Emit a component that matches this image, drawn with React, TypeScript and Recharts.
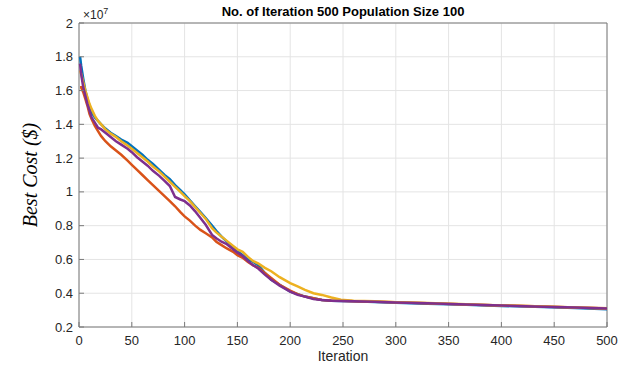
import { LineChart, Line, XAxis, YAxis, CartesianGrid, ReferenceArea } from 'recharts';

// iteration samples (values in units of 1e7 $)
const iterations = [1, 2, 4, 6, 8, 10, 12, 15, 18, 21, 25, 30, 35, 40, 46, 50, 55, 60, 65, 70, 76, 81, 86, 91, 96, 100, 105, 110, 115, 120, 126, 130, 135, 140, 146, 150, 155, 160, 165, 170, 176, 182, 190, 200, 207, 214, 222, 230, 239, 248, 260, 280, 300, 330, 360, 400, 440, 470, 500];

const run1 = [1.80, 1.75, 1.67, 1.60, 1.55, 1.51, 1.47, 1.44, 1.42, 1.40, 1.375, 1.35, 1.33, 1.31, 1.29, 1.27, 1.245, 1.22, 1.19, 1.165, 1.13, 1.10, 1.075, 1.04, 1.01, 0.985, 0.95, 0.915, 0.88, 0.845, 0.80, 0.77, 0.735, 0.705, 0.67, 0.65, 0.625, 0.60, 0.585, 0.565, 0.52, 0.48, 0.45, 0.41, 0.395, 0.38, 0.37, 0.36, 0.355, 0.354, 0.352, 0.348, 0.344, 0.338, 0.333, 0.325, 0.318, 0.312, 0.305];
const run2 = [1.62, 1.62, 1.59, 1.55, 1.51, 1.46, 1.43, 1.39, 1.36, 1.33, 1.30, 1.27, 1.245, 1.22, 1.185, 1.16, 1.13, 1.10, 1.07, 1.04, 1.005, 0.975, 0.945, 0.915, 0.88, 0.855, 0.83, 0.80, 0.775, 0.755, 0.73, 0.705, 0.685, 0.665, 0.645, 0.625, 0.61, 0.585, 0.565, 0.55, 0.52, 0.49, 0.45, 0.415, 0.395, 0.38, 0.37, 0.36, 0.356, 0.355, 0.353, 0.35, 0.346, 0.341, 0.335, 0.328, 0.321, 0.316, 0.311];
const run3 = [1.72, 1.70, 1.65, 1.60, 1.56, 1.52, 1.49, 1.45, 1.42, 1.40, 1.37, 1.345, 1.325, 1.30, 1.275, 1.255, 1.23, 1.205, 1.18, 1.15, 1.12, 1.09, 1.06, 1.03, 1.00, 0.975, 0.945, 0.91, 0.875, 0.84, 0.785, 0.76, 0.735, 0.71, 0.68, 0.66, 0.645, 0.615, 0.59, 0.575, 0.55, 0.53, 0.495, 0.46, 0.44, 0.42, 0.40, 0.39, 0.375, 0.362, 0.356, 0.352, 0.347, 0.342, 0.336, 0.328, 0.321, 0.316, 0.31];
const run4 = [1.76, 1.70, 1.62, 1.57, 1.52, 1.48, 1.44, 1.41, 1.38, 1.37, 1.35, 1.325, 1.30, 1.28, 1.255, 1.235, 1.205, 1.18, 1.155, 1.125, 1.095, 1.065, 1.035, 0.97, 0.955, 0.945, 0.92, 0.885, 0.845, 0.805, 0.745, 0.725, 0.705, 0.69, 0.66, 0.64, 0.62, 0.59, 0.565, 0.545, 0.51, 0.48, 0.445, 0.41, 0.39, 0.38, 0.365, 0.36, 0.355, 0.354, 0.352, 0.349, 0.345, 0.34, 0.334, 0.327, 0.32, 0.315, 0.31];

const xTicks = [0, 50, 100, 150, 200, 250, 300, 350, 400, 450, 500];
const yTicks = [0.2, 0.4, 0.6, 0.8, 1, 1.2, 1.4, 1.6, 1.8, 2];

const data = iterations.map((it, i) => ({ it, a: run1[i], b: run2[i], c: run3[i], d: run4[i] }));

const AXIS = '#7a7a7a';
const LABEL = '#262626';
const FONT = '"Liberation Sans", Arial, sans-serif';

// eslint-disable-next-line @typescript-eslint/no-explicit-any
const BottomTick = ({ x, y, payload }: any) => (
  <g>
    <line x1={x} x2={x} y1={y} y2={y - 5} stroke={AXIS} />
    <text x={x} y={y + 18} textAnchor="middle" fontSize={13} fill={LABEL} fontFamily={FONT}>{payload.value}</text>
  </g>
);
// eslint-disable-next-line @typescript-eslint/no-explicit-any
const LeftTick = ({ x, y, payload }: any) => (
  <g>
    <line x1={x} x2={x + 5} y1={y} y2={y} stroke={AXIS} />
    <text x={x - 6} y={y + 4.5} textAnchor="end" fontSize={13} fill={LABEL} fontFamily={FONT}>
      {String(Number(Number(payload.value).toFixed(1)))}
    </text>
  </g>
);
// eslint-disable-next-line @typescript-eslint/no-explicit-any
const TopTick = ({ x, y }: any) => <line x1={x} x2={x} y1={y} y2={y + 5} stroke={AXIS} />;
// eslint-disable-next-line @typescript-eslint/no-explicit-any
const RightTick = ({ x, y }: any) => <line x1={x} x2={x - 5} y1={y} y2={y} stroke={AXIS} />;

export default function App() {
  return (
    <div style={{ position: 'absolute', left: 0, top: 0, width: 630, height: 368, background: '#fff' }}>
      <LineChart width={630} height={368} data={data} margin={{ top: 23, right: 23, left: 0, bottom: 0 }}>
        <CartesianGrid stroke="#e4e4e4" strokeWidth={1} />
        <XAxis
          dataKey="it" type="number" domain={[0, 500]} ticks={xTicks}
          height={41} axisLine={false} tickLine={false} tickSize={0} tickMargin={0}
          tick={<BottomTick />} interval={0}
        />
        <XAxis
          xAxisId="top" orientation="top" dataKey="it" type="number" domain={[0, 500]} ticks={xTicks}
          height={0} axisLine={false} tickLine={false} tickSize={0} tickMargin={0}
          tick={<TopTick />} interval={0}
        />
        <YAxis
          type="number" domain={[0.2, 2]} ticks={yTicks} width={79}
          axisLine={false} tickLine={false} tickSize={0} tickMargin={0}
          tick={<LeftTick />} interval={0}
        />
        <YAxis
          yAxisId="right" orientation="right" type="number" domain={[0.2, 2]} ticks={yTicks} width={0}
          axisLine={false} tickLine={false} tickSize={0} tickMargin={0}
          tick={<RightTick />} interval={0}
        />
        <ReferenceArea x1={0} x2={500} y1={0.2} y2={2} fill="none" stroke={AXIS} strokeWidth={1} />
        <Line dataKey="a" stroke="#0072BD" strokeWidth={2.5} dot={false} isAnimationActive={false} />
        <Line dataKey="b" stroke="#D95319" strokeWidth={2.5} dot={false} isAnimationActive={false} />
        <Line dataKey="c" stroke="#EDB120" strokeWidth={2.5} dot={false} isAnimationActive={false} />
        <Line dataKey="d" stroke="#7E2F8E" strokeWidth={2.5} dot={false} isAnimationActive={false} />
      </LineChart>
      <div style={{ position: 'absolute', left: 0, width: 630, top: 4, paddingLeft: 56, boxSizing: 'border-box', textAlign: 'center', fontFamily: FONT, fontWeight: 'bold', fontSize: 13, color: '#000', whiteSpace: 'nowrap' }}>
        No. of Iteration 500 Population Size 100
      </div>
      <div style={{ position: 'absolute', left: 83, top: 6, fontFamily: FONT, fontSize: 12, color: LABEL }}>
        ×10<sup style={{ fontSize: 9 }}>7</sup>
      </div>
      <div style={{ position: 'absolute', left: 343, top: 348, transform: 'translateX(-50%)', fontFamily: FONT, fontSize: 14, color: LABEL }}>
        Iteration
      </div>
      <div style={{ position: 'absolute', left: 30, top: 175, transform: 'translate(-50%, -50%) rotate(-90deg)', fontFamily: '"Liberation Serif", serif', fontStyle: 'italic', fontSize: 20, color: '#000', whiteSpace: 'nowrap' }}>
        Best Cost ($)
      </div>
    </div>
  );
}
